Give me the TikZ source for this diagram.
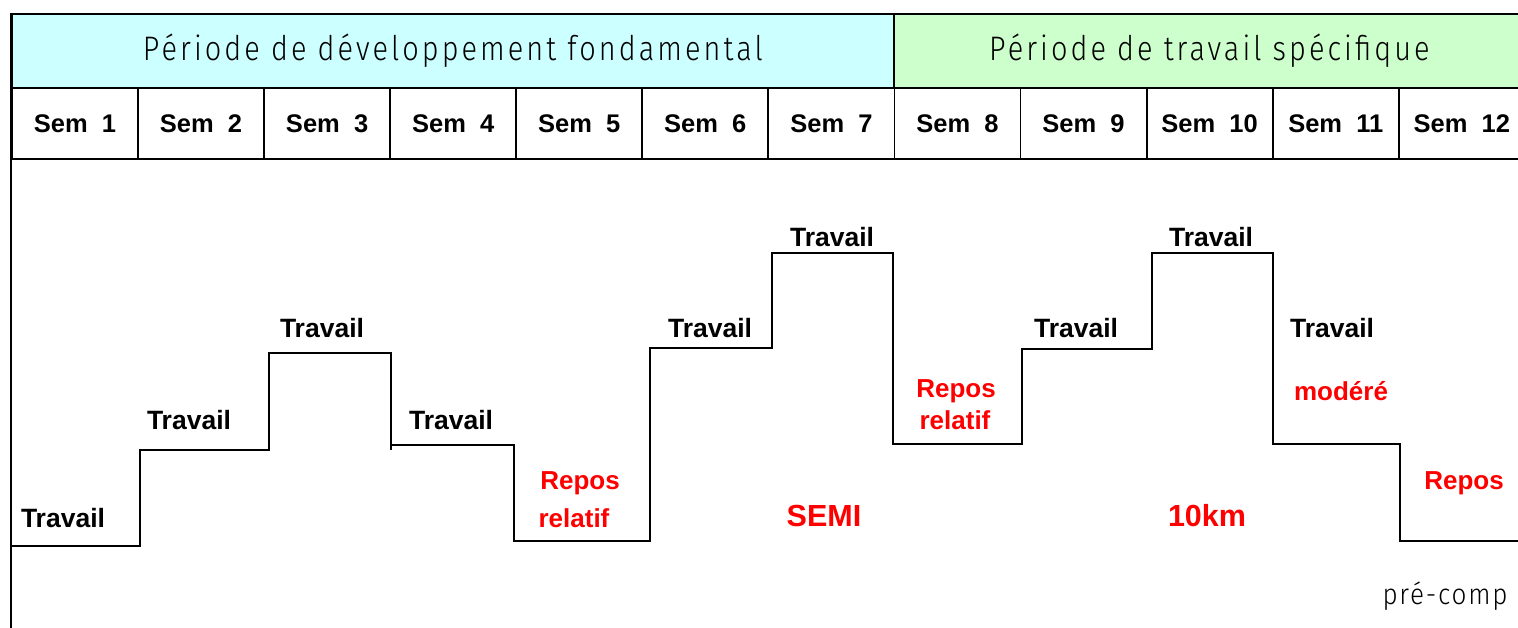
\documentclass[tikz,border=0pt]{standalone}
\usepackage{fontspec}
\setmainfont{Liberation Sans}
\newfontfamily\labf{Liberation Sans}
\newfontfamily\thinf{Fira Sans Light}[FakeStretch=0.85,LetterSpace=9]
\newfontfamily\thinsm{Fira Sans Light}[FakeStretch=0.9,LetterSpace=6]
\definecolor{cyanbg}{RGB}{204,255,255}
\definecolor{greenbg}{RGB}{204,255,204}
\definecolor{redtxt}{RGB}{255,0,0}
\begin{document}
\begin{tikzpicture}[x=1pt,y=-1pt,
  frame/.style={draw=black,line width=1.8pt},
  hdr/.style={frame,anchor=north west,minimum height=74pt,inner sep=0pt,
    font=\thinf\fontsize{34}{34}\selectfont},
  semcell/.style={frame,anchor=north west,minimum width=126.08pt,minimum height=71pt,inner sep=0pt,
    font=\labf\bfseries\fontsize{25.5}{25.5}\selectfont},
  work/.style={font=\labf\bfseries\fontsize{26.5}{26.5}\selectfont,inner sep=0pt},
  rest/.style={font=\labf\bfseries\fontsize{26}{26}\selectfont,text=redtxt,inner sep=0pt},
  big/.style={font=\labf\bfseries\fontsize{30.5}{30.5}\selectfont,text=redtxt,inner sep=0pt},
  stepline/.style={draw=black,line width=1.5pt}
]
\useasboundingbox (0,0) rectangle (1518,628);
\clip (0,0) rectangle (1518,628);
\fill[white] (0,0) rectangle (1518,628);
% header
\node[hdr,fill=cyanbg,minimum width=882pt] (p1) at (11,13) {Période de développement fondamental};
\node[hdr,fill=greenbg,minimum width=631pt] (p2) at (893,13) {Période de travail spécifique};
% weeks
\foreach \i in {1,...,12}{
  \node[semcell] (s\i) at ({11+126.08*(\i-1)},87) {Sem\ \ \i};
}
% left frame line
\draw[frame] (11,13) -- (11,628);
% step line
\draw[stepline] (11,546) -- (140,546) -- (140,450) -- (269,450) -- (269,353) -- (391,353)
  -- (391,450) (391,445) -- (514,445) -- (514,541) -- (650,541) -- (650,348) -- (772,348)
  -- (772,253) -- (893,253) -- (893,444) -- (1022,444) -- (1022,349) -- (1152,349)
  -- (1152,253) -- (1273,253) -- (1273,444) -- (1400,444) -- (1400,541) -- (1530,541);
% labels
\node[work] (t1) at (63,518) {Travail};
\node[work] (t2) at (189,420) {Travail};
\node[work] (t3) at (322,328) {Travail};
\node[work] (t4) at (451,420) {Travail};
\node[work] (t6) at (710,328) {Travail};
\node[work] (t7) at (832,237) {Travail};
\node[work] (t9) at (1076,328) {Travail};
\node[work] (t10) at (1211,237) {Travail};
\node[work] (t11) at (1332,328) {Travail};
\node[rest] (r5a) at (580,483) {Repos};
\node[rest] (r5b) at (574,518) {relatif};
\node[rest] (r8a) at (956,391) {Repos};
\node[rest] (r8b) at (955,420) {relatif};
\node[rest] (m11) at (1341,391) {modéré};
\node[rest] (r12) at (1464,483) {Repos};
\node[big] (semi) at (824,516) {SEMI};
\node[big] (km) at (1207,516) {10km};
\node[font=\thinsm\fontsize{29}{29}\selectfont,inner sep=0pt] (pc) at (1445,596) {pré-comp};
\end{tikzpicture}
\end{document}
